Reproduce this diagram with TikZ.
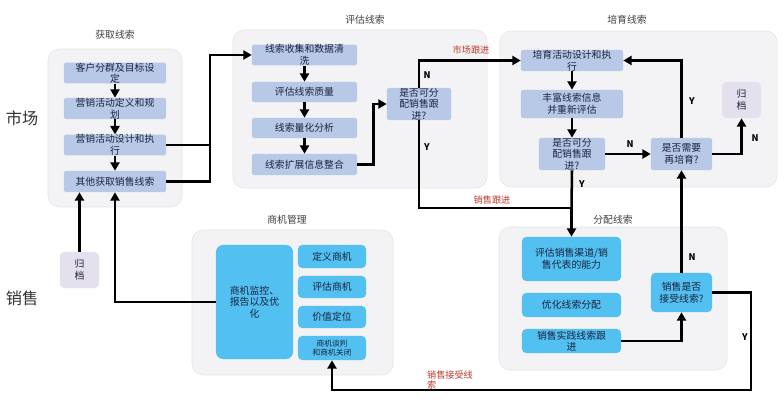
\documentclass[tikz,border=0pt]{standalone}
\usepackage{fontspec}
\setmainfont{Noto Sans CJK SC}
\usetikzlibrary{arrows.meta}
\definecolor{groupgray}{HTML}{F3F3F5}
\definecolor{leadblue}{HTML}{B7C9E6}
\definecolor{salesblue}{HTML}{52C0F0}
\definecolor{archivegray}{HTML}{E4E0EE}
\definecolor{notered}{HTML}{C0392B}
\definecolor{textblue}{HTML}{1C2340}
\tikzset{
  group/.style={draw=black!10, fill=groupgray, rounded corners=8pt, inner sep=0pt},
  title/.style={font=\fontsize{7}{8}\selectfont, text=black!75},
  lead/.style={fill=leadblue, rounded corners=1.5pt, inner sep=0pt, align=center,
    font=\fontsize{7}{8.2}\selectfont, text=textblue},
  sales/.style={lead, fill=salesblue, rounded corners=3pt},
  archive/.style={lead, fill=archivegray, rounded corners=3pt},
  flow/.style={line width=1.8pt, -{Triangle[length=6pt,width=6.5pt]}},
  link/.style={line width=1.8pt},
  yn/.style={font=\bfseries\fontsize{6.5}{7}\selectfont},
  note/.style={text=notered, font=\fontsize{6.5}{7.5}\selectfont, align=left},
  side/.style={font=\fontsize{11.5}{12}\selectfont, text=black!80}
}

\begin{document}
\begin{tikzpicture}[x=0.025cm, y=-0.025cm]
  \useasboundingbox[fill=white] (0,0) rectangle (784,413);

  \node[side] (market) at (22,118) {市场};
  \node[side] (sales) at (22,298) {销售};

  % groups
  \node[group, minimum width=3.35cm, minimum height=3.95cm] (gget) at (115,128) {};
  \node[group, minimum width=6.35cm, minimum height=3.95cm] (geval) at (360,109) {};
  \node[group, minimum width=6.925cm, minimum height=3.9cm] (gnurt) at (638.5,109) {};
  \node[group, minimum width=5.7cm, minimum height=3.575cm] (gassign) at (613,298.5) {};
  \node[group, minimum width=5.025cm, minimum height=3.625cm] (gopp) at (292.5,302.5) {};

  \node[title] (tget) at (115,35) {获取线索};
  \node[title] (teval) at (365,20) {评估线索};
  \node[title] (tnurt) at (627,20) {培育线索};
  \node[title] (tassign) at (613,220) {分配线索};
  \node[title] (topp) at (287,220) {商机管理};

  % get leads
  \node[lead, minimum width=2.55cm, minimum height=0.5cm] (get1) at (115,73) {客户分群及目标设\\定};
  \node[lead, minimum width=2.55cm, minimum height=0.525cm] (get2) at (115,108.5) {营销活动定义和规\\划};
  \node[lead, minimum width=2.55cm, minimum height=0.5cm] (get3) at (115,145) {营销活动设计和执\\行};
  \node[lead, minimum width=2.55cm, minimum height=0.525cm] (get4) at (115,181.5) {其他获取销售线索};
  \node[archive, minimum width=0.975cm, minimum height=0.9cm] (arch1) at (79.5,270) {归\\档};

  % evaluate leads
  \node[lead, minimum width=2.625cm, minimum height=0.5cm] (eval1) at (304.5,55) {线索收集和数据清\\洗};
  \node[lead, minimum width=2.625cm, minimum height=0.5cm] (eval2) at (304.5,92) {评估线索质量};
  \node[lead, minimum width=2.625cm, minimum height=0.5cm] (eval3) at (304.5,128) {线索量化分析};
  \node[lead, minimum width=2.625cm, minimum height=0.525cm] (eval4) at (304.5,164.5) {线索扩展信息整合};
  \node[lead, minimum width=1.6cm, minimum height=0.8cm] (evalq) at (419,104) {是否可分\\配销售跟\\进?};

  % nurture leads
  \node[lead, minimum width=2.55cm, minimum height=0.525cm] (nurt1) at (572,60.5) {培育活动设计和执\\行};
  \node[lead, minimum width=2.55cm, minimum height=0.7cm] (nurt2) at (572,104) {丰富线索信息\\并重新评估};
  \node[lead, minimum width=1.65cm, minimum height=0.8cm] (nurtq) at (572,154) {是否可分\\配销售跟\\进?};
  \node[lead, minimum width=1.525cm, minimum height=0.8cm] (againq) at (681.5,154) {是否需要\\再培育?};
  \node[archive, minimum width=0.975cm, minimum height=0.9cm] (arch2) at (741.5,100) {归\\档};

  % assign leads
  \node[sales, minimum width=2.475cm, minimum height=1.1cm] (asg1) at (571.5,259) {评估销售渠道/销\\售代表的能力};
  \node[sales, minimum width=2.475cm, minimum height=0.6cm] (asg2) at (571.5,305) {优化线索分配};
  \node[sales, minimum width=2.475cm, minimum height=0.6cm] (asg3) at (571.5,341) {销售实践线索跟\\进};
  \node[sales, minimum width=1.525cm, minimum height=0.975cm] (acceptq) at (681.5,292.5) {销售是否\\接受线索?};

  % opportunity management
  \node[sales, rounded corners=5pt, minimum width=1.925cm, minimum height=2.85cm] (opp0) at (254.5,302) {商机监控、\\报告以及优\\化};
  \node[sales, minimum width=1.7cm, minimum height=0.575cm] (opp1) at (332,256.5) {定义商机};
  \node[sales, minimum width=1.7cm, minimum height=0.55cm] (opp2) at (332,287) {评估商机};
  \node[sales, minimum width=1.7cm, minimum height=0.55cm] (opp3) at (332,317) {价值定位};
  \node[sales, minimum width=1.7cm, minimum height=0.6cm, font=\fontsize{5.5}{7}\selectfont] (opp4) at (332,348) {商机谈判\\和商机关闭};

  \coordinate (jget) at (210,55);
  \coordinate (jsales) at (571.5,208);
  \coordinate (jaccept) at (751,390);

  % connectors
  \draw[flow] (get1) -- (get2);
  \draw[flow] (get2) -- (get3);
  \draw[flow] (get3) -- (get4);
  \draw[flow] (get4.east) -| (jget) -- (eval1.west);
  \draw[link] (get3.east) -- (get3.east -| jget);
  \draw[flow] (arch1.north) -- (arch1.north |- get4.south);
  \draw[flow] (opp0.west) -| (get4.south);

  \draw[flow] (eval1) -- (eval2);
  \draw[flow] (eval2) -- (eval3);
  \draw[flow] (eval3) -- (eval4);
  \draw[flow] (eval4.east) -- ++(16,0) |- (evalq.west);
  \draw[flow] (evalq.north) |- (nurt1.west);
  \draw[flow] (evalq.south) |- (jsales) -- (asg1.north);

  \draw[flow] (nurt1) -- (nurt2);
  \draw[flow] (nurt2) -- (nurtq);
  \draw[link] (nurtq.south) -- (jsales);
  \draw[flow] (nurtq) -- (againq);
  \draw[flow] (againq.north) |- (nurt1.east);
  \draw[flow] (againq.east) -| (arch2.south);

  \draw[flow] (asg3.east) -| (acceptq.south);
  \draw[flow] (acceptq.north) -- (againq.south);
  \draw[flow] (acceptq.east) -| (jaccept) -| (opp4.south);

  % labels
  \node[yn] (nA) at (427,75) {N};
  \node[yn] (yA) at (427,147) {Y};
  \node[note] (market follow) at (471,50) {市场跟进};
  \node[note] (sales follow) at (492,200) {销售跟进};
  \node[yn] (yB) at (582,184) {Y};
  \node[yn] (nB) at (630,144) {N};
  \node[yn] (yC) at (692,101) {Y};
  \node[yn] (nC) at (755,138) {N};
  \node[yn] (nD) at (692,257) {N};
  \node[yn] (yD) at (745,337) {Y};
  \node[note] (accepted) at (450,380) {销售接受线\\索};
\end{tikzpicture}
\end{document}
